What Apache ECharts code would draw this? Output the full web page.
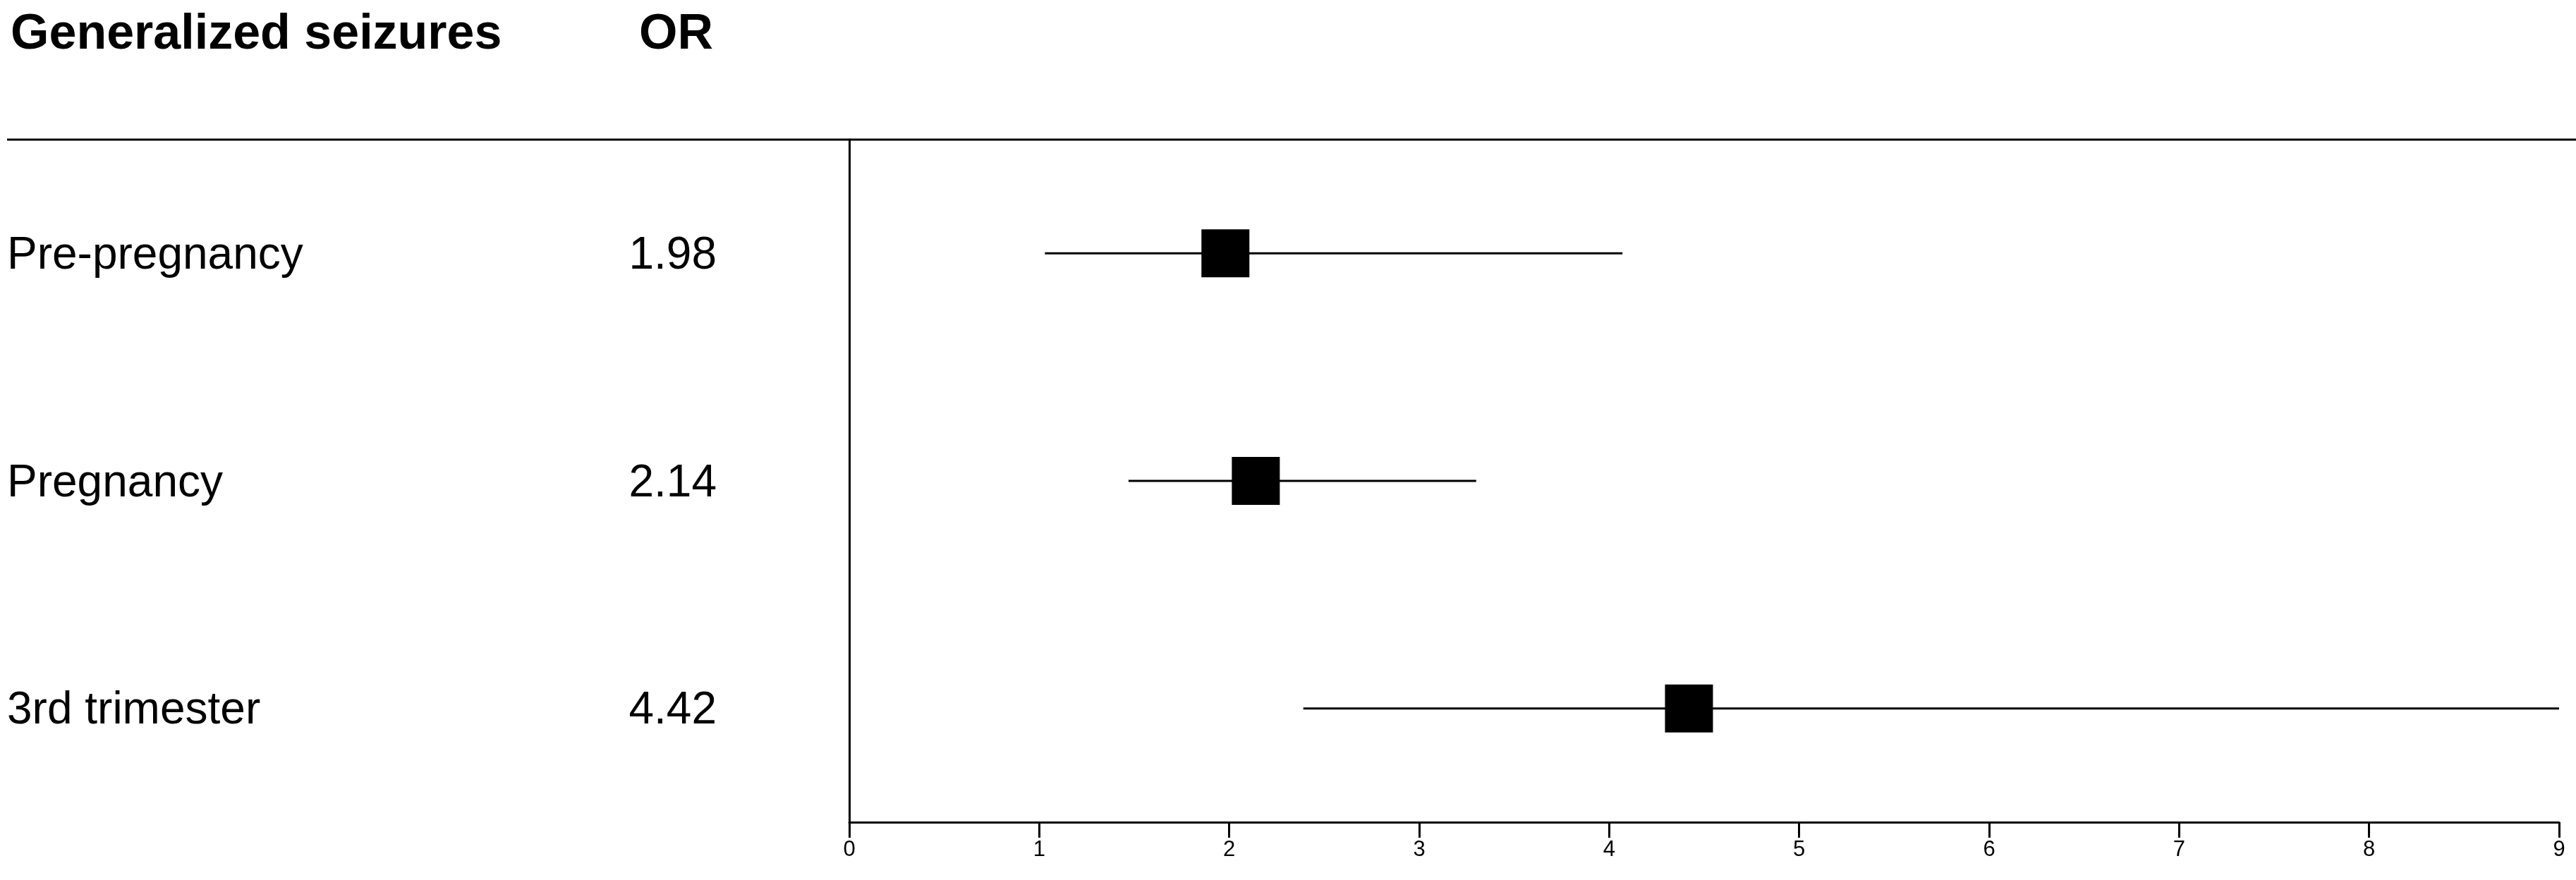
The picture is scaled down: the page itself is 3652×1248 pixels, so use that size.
<!DOCTYPE html>
<html>
<head>
<meta charset="utf-8">
<script src="https://cdn.jsdelivr.net/npm/echarts@6/dist/echarts.min.js"></script>
<style>
  html, body { margin: 0; padding: 0; background: #fff; }
  #chart { width: 3652px; height: 1248px; }
</style>
</head>
<body>
<div id="chart"></div>
<script>
// forest plot data
const rowLabels = ["Pre-pregnancy", "Pregnancy", "3rd trimester"];
const orValues = [1.98, 2.14, 4.42];
const ciLower = [1.03, 1.47, 2.39];
const ciUpper = [4.07, 3.30, 9.0];
const xTicks = [0, 1, 2, 3, 4, 5, 6, 7, 8, 9];

const FONT = "Liberation Sans, Arial, sans-serif";

const chart = echarts.init(document.getElementById("chart"));

const option = {
  animation: false,
  title: [
    {
      text: "Generalized seizures",
      left: 10,
      top: 10,
      textStyle: { fontFamily: FONT, fontSize: 70, fontWeight: "bold", color: "#000" },
    },
    {
      text: "OR",
      right: 3652 - 1016,
      top: 10,
      textStyle: { fontFamily: FONT, fontSize: 70, fontWeight: "bold", color: "#000" },
    },
  ],
  graphic: [
    {
      type: "line",
      shape: { x1: 10, y1: 198, x2: 3652, y2: 198 },
      style: { stroke: "#000", lineWidth: 3 },
    },
  ],
  grid: { left: 1204, right: 24, top: 198, bottom: 82 },
  xAxis: {
    type: "value",
    min: 0,
    max: 9,
    interval: 1,
    splitLine: { show: false },
    axisLine: { show: true, onZero: false, lineStyle: { color: "#000", width: 3 } },
    axisTick: { show: true, length: 22, lineStyle: { color: "#000", width: 3 } },
    axisLabel: {
      fontFamily: FONT,
      fontSize: 31,
      color: "#000",
      margin: 24,
      formatter: (v) => (xTicks.includes(v) ? String(v) : ""),
    },
  },
  yAxis: {
    type: "category",
    data: rowLabels,
    inverse: true,
    axisLine: { show: true, lineStyle: { color: "#000", width: 3 } },
    axisTick: { show: false },
    axisLabel: {
      margin: 188,
      formatter: (name, idx) => "{a|" + name + "}{b|" + orValues[idx].toFixed(2) + "}",
      rich: {
        a: { fontFamily: FONT, fontSize: 64, color: "#000", width: 806, align: "left", padding: [8, 0, 0, 0] },
        b: { fontFamily: FONT, fontSize: 64, color: "#000", width: 200, align: "right", padding: [8, 0, 0, 0] },
      },
    },
  },
  series: [
    {
      type: "custom",
      data: rowLabels.map((_, i) => [i, orValues[i], ciLower[i], ciUpper[i]]),
      encode: { y: 0, x: [1, 2, 3] },
      renderItem: (params, api) => {
        const idx = api.value(0);
        const mid = api.coord([api.value(1), idx]);
        const lo = api.coord([api.value(2), idx]);
        const hi = api.coord([api.value(3), idx]);
        const side = 68;
        return {
          type: "group",
          children: [
            {
              type: "line",
              shape: { x1: lo[0], y1: lo[1], x2: hi[0], y2: hi[1] },
              style: { stroke: "#000", lineWidth: 3 },
            },
            {
              type: "rect",
              shape: { x: mid[0] - side / 2, y: mid[1] - side / 2, width: side, height: side },
              style: { fill: "#000" },
            },
          ],
        };
      },
    },
  ],
};

chart.setOption(option);
</script>
</body>
</html>
